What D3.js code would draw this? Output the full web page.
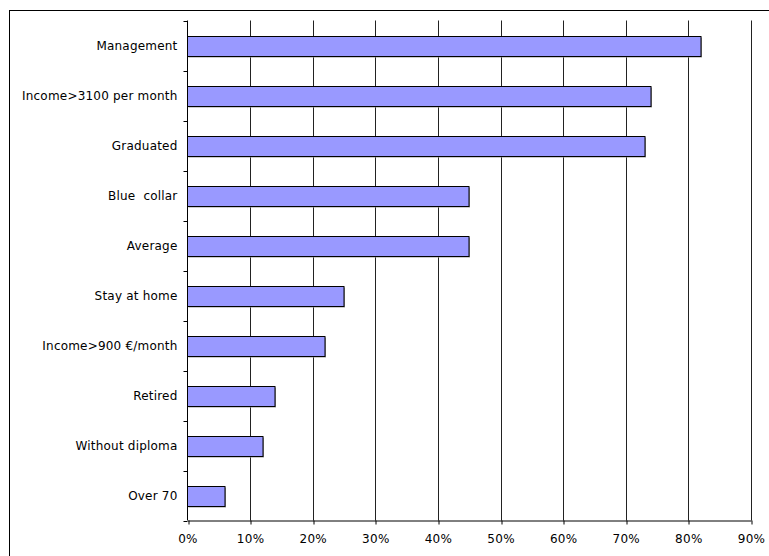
<!DOCTYPE html>
<html><head><meta charset="utf-8">
<script src="https://cdn.jsdelivr.net/npm/d3@7"></script>
<style>body{margin:0;background:#fff}svg{display:block}</style>
</head><body>
<svg id="c" width="769" height="556"></svg>
<script>
const categories = ["Management","Income>3100 per month","Graduated","Blue  collar","Average","Stay at home","Income>900 €/month","Retired","Without diploma","Over 70"];
const values = [0.82,0.74,0.73,0.45,0.45,0.25,0.22,0.14,0.12,0.06];
const tickValues = [0,0.1,0.2,0.3,0.4,0.5,0.6,0.7,0.8,0.9];

(function(){
const svg = d3.select("#c");
const font = "DejaVu Sans, Verdana, sans-serif";
const pLeft = 187.5, pRight = 751, pTop = 20.5, pBottom = 520.5;

svg.append("rect").attr("x",9.5).attr("y",10.5).attr("width",900).attr("height",900)
  .attr("fill","#fff").attr("stroke","#000").attr("stroke-width",1);

const x = d3.scaleLinear().domain([0,0.9]).range([pLeft,pRight]);
const y = d3.scaleBand().domain(categories).range([pTop,pBottom]).paddingInner(0.6).paddingOuter(0.3);

// gridlines
svg.append("g").selectAll("line").data(tickValues.slice(1)).join("line")
  .attr("x1",d=>Math.round(x(d))+0.5).attr("x2",d=>Math.round(x(d))+0.5)
  .attr("y1",pTop).attr("y2",pBottom).attr("stroke","#222").attr("stroke-width",1);

// bars shadow
svg.append("g").selectAll("rect").data(values).join("rect")
  .attr("x",pLeft+1).attr("y",(d,i)=>Math.round(y(categories[i]))+1.5)
  .attr("width",d=>Math.round(x(d))-pLeft).attr("height",y.bandwidth())
  .attr("fill","#999");
// bars
svg.append("g").selectAll("rect").data(values).join("rect")
  .attr("x",pLeft).attr("y",(d,i)=>Math.round(y(categories[i]))+0.5)
  .attr("width",d=>Math.round(x(d))-pLeft).attr("height",y.bandwidth())
  .attr("fill","#9999FF").attr("stroke","#000").attr("stroke-width",1);

// y axis
const yTicks = d3.range(categories.length+1).map(i=>pTop + i*(pBottom-pTop)/categories.length);
const ga = svg.append("g");
ga.append("line").attr("x1",pLeft).attr("x2",pLeft).attr("y1",pTop).attr("y2",pBottom).attr("stroke","#000");
ga.selectAll("line.t").data(yTicks).join("line").attr("class","t")
  .attr("x1",pLeft-4).attr("x2",pLeft).attr("y1",d=>Math.round(d)+0.5).attr("y2",d=>Math.round(d)+0.5).attr("stroke","#000");
ga.selectAll("text").data(categories).join("text")
  .attr("x",pLeft-10).attr("y",d=>y(d)+y.bandwidth()/2).attr("dy","0.36em")
  .attr("text-anchor","end").attr("font-family",font).attr("font-size",12).attr("fill","#000")
  .attr("letter-spacing","0.2px")
  .style("white-space","pre").text(d=>d);

// x axis
const gx = svg.append("g").attr("transform",`translate(0,${pBottom})`);
const xAxis = d3.axisBottom(x).tickValues(tickValues).tickFormat(d3.format(".0%")).tickSizeInner(4).tickSizeOuter(0);
gx.call(xAxis);
gx.select(".domain").attr("stroke","#000");
gx.selectAll(".tick line").attr("stroke","#000").attr("transform",d=>`translate(${Math.round(x(d))+0.5-x(d)},0)`);
gx.selectAll(".tick text").attr("font-family",font).attr("font-size",12).attr("fill","#000").attr("y",14)
  .attr("letter-spacing","0.3px");
})();
</script>
</body></html>
